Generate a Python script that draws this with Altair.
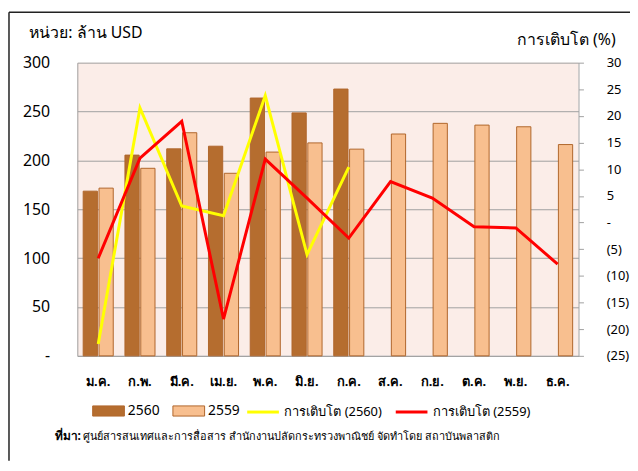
import altair as alt
import pandas as pd

months = ["ม.ค.", "ก.พ.", "มี.ค.", "เม.ย.", "พ.ค.", "มิ.ย.", "ก.ค.", "ส.ค.", "ก.ย.", "ต.ค.", "พ.ย.", "ธ.ค."]
bars_2560 = [168.5, 205.4, 211.8, 214.5, 263.8, 248.6, 273.0]
bars_2559 = [171.6, 191.9, 228.3, 186.8, 208.5, 217.9, 211.5, 227.0, 237.9, 236.1, 234.4, 216.2]
growth_2560 = [-22.8, 21.5, 3.1, 1.3, 23.8, -6.0, 10.4]
growth_2559 = [-6.7, 12.1, 19.0, -18.1, 11.9, 4.6, -2.9, 7.7, 4.6, -0.8, -1.0, -7.8]
bar_series = ["2560", "2559"]
line_series = ["การเติบโต (2560)", "การเติบโต (2559)"]
right_ticks = [-25, -20, -15, -10, -5, 0, 5, 10, 15, 20, 25, 30]
left_ticks = [0, 50, 100, 150, 200, 250, 300]
left_title = "หน่วย: ล้าน USD"
right_title = "การเติบโต (%)"
source_bold = "ที่มา:"
source_text = "ศูนย์สารสนเทศและการสื่อสาร  สำนักงานปลัดกระทรวงพาณิชย์     จัดทำโดย  สถาบันพลาสติก"

FONT = "Noto Sans"
DARK = "#B56D2F"
LIGHT = "#F8BF8F"
GRID = "#A0A0A0"

rows = []
for m, v in zip(months, bars_2560):
    rows.append({"month": m, "year": bar_series[0], "value": v})
for m, v in zip(months, bars_2559):
    rows.append({"month": m, "year": bar_series[1], "value": v})
bars_df = pd.DataFrame(rows)

lrows = []
for m, v in zip(months, growth_2560):
    lrows.append({"month": m, "series": line_series[0], "g": v})
for m, v in zip(months, growth_2559):
    lrows.append({"month": m, "series": line_series[1], "g": v})
lines_df = pd.DataFrame(lrows)

x_enc = alt.X("month:N", sort=months, title=None,
              scale=alt.Scale(paddingInner=0.28, paddingOuter=0.14),
              axis=alt.Axis(labelAngle=0, ticks=False, domainColor=GRID, labelFont=FONT,
                            labelFontSize=13, labelFontWeight="bold", labelColor="#000000",
                            labelPadding=20))

bars = alt.Chart(bars_df).mark_bar(stroke="#B0662C", strokeWidth=1).encode(
    x=x_enc,
    xOffset=alt.XOffset("year:N", sort=bar_series, scale=alt.Scale(paddingInner=0.1, paddingOuter=0)),
    y=alt.Y("value:Q", scale=alt.Scale(domain=[0, 300], nice=False),
            axis=alt.Axis(values=left_ticks, ticks=False, domainColor=GRID,
                          gridColor=GRID, grid=True, labelFont=FONT, labelFontSize=16,
                          labelColor="#000000", labelPadding=28,
                          labelExpr="datum.value == 0 ? '-' : datum.label",
                          title=left_title, titleAngle=0, titleAlign="left", titleBaseline="alphabetic",
                          titleX=-49, titleY=-25, titleFont=FONT, titleFontSize=16,
                          titleFontWeight="normal", titleColor="#000000")),
    fill=alt.Fill("year:N", scale=alt.Scale(domain=bar_series, range=[DARK, LIGHT]),
                  legend=alt.Legend(title=None, orient="none", legendX=15, legendY=335,
                                    direction="horizontal", columns=2, columnPadding=10,
                                    symbolType="M-1,-0.32L1,-0.32L1,0.32L-1,0.32Z", symbolSize=1024,
                                    symbolStrokeColor="#B0662C", symbolStrokeWidth=1,
                                    labelFont=FONT, labelFontSize=14, labelColor="#000000",
                                    labelOffset=3)),
)

y2 = alt.Y("g:Q", scale=alt.Scale(domain=[-25, 30], nice=False),
           axis=alt.Axis(orient="right", values=right_ticks, grid=False, tickSize=5,
                         tickColor=GRID, domainColor=GRID, labelFont=FONT, labelFontSize=13,
                         labelColor="#000000", labelAlign="left", labelPadding=23,
                         labelOverlap=False, labelBound=False, labelFlush=False,
                         labelExpr="datum.value == 0 ? '-' : (datum.value < 0 ? '(' + abs(datum.value) + ')' : datum.label)",
                         title=right_title, titleAngle=0, titleAlign="right", titleBaseline="alphabetic",
                         titleX=37, titleY=-18, titleFont=FONT, titleFontSize=16,
                         titleFontWeight="normal", titleColor="#000000"))

stroke_enc = alt.Stroke("series:N", scale=alt.Scale(domain=line_series, range=["#FFFF00", "#FF0000"]),
                        legend=alt.Legend(title=None, orient="none", legendX=170, legendY=335,
                                          direction="horizontal", columns=2, columnPadding=8,
                                          symbolType="stroke", symbolSize=1024, symbolStrokeWidth=3,
                                          labelFont=FONT, labelFontSize=13, labelColor="#000000",
                                          labelOffset=4))

lines = alt.Chart(lines_df).mark_line(strokeWidth=3).encode(
    x=alt.X("month:N", sort=months), y=y2, stroke=stroke_enc
)

one = pd.DataFrame({"a": [1]})
border_top = alt.Chart(one).mark_rule(color="#222222", strokeWidth=1.5).encode(
    x=alt.value(-69), x2=alt.value(558), y=alt.value(-51))
border_left = alt.Chart(one).mark_rule(color="#222222", strokeWidth=1.5).encode(
    x=alt.value(-69), y=alt.value(-51), y2=alt.value(402))

src_df = pd.DataFrame({"t": [source_bold], "u": [source_text]})
src_bold = alt.Chart(src_df).mark_text(align="left", baseline="alphabetic", font=FONT,
                                       fontSize=12, fontWeight="bold", color="#000000").encode(
    x=alt.value(-23), y=alt.value(381), text="t:N")
src_rest = alt.Chart(src_df).mark_text(align="left", baseline="alphabetic", font=FONT,
                                       fontSize=11, color="#000000").encode(
    x=alt.value(6), y=alt.value(381), text="u:N")

chart = alt.layer(bars, lines, border_top, border_left, src_bold, src_rest).resolve_scale(
    y="independent"
).properties(
    width=506, height=296,
    autosize=alt.AutoSizeParams(type="none"),
    padding={"left": 70, "top": 53, "right": 52, "bottom": 105},
    background="#FFFFFF",
).configure_view(fill="#FBEDE8", strokeWidth=0)

chart.save("out.html", embed_options={"renderer": "svg", "actions": False})
